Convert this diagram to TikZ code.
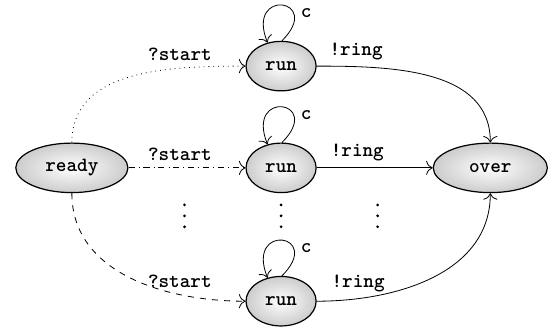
\documentclass[tikz,border=0pt]{standalone}
\usepackage{amsmath}
\usepackage{amssymb}
\usepackage{tikz}
\usetikzlibrary{shapes.geometric,positioning,arrows.meta}

\tikzset{
  loc/.style={ellipse,draw,semithick,shading=radial,inner color=white,
    outer color=gray!40,minimum height=24.5pt,inner sep=0pt},
  lbl/.style={above,font=\ttfamily\bfseries},
  dot/.style={circle,fill,inner sep=0pt,minimum size=1.5pt}
}

\begin{document}
\begin{tikzpicture}[->,>={To[length=3.2pt,width=7pt]},node distance=3.64cm,font=\ttfamily\bfseries]
  \useasboundingbox (-1.25,-2.785) rectangle (8.44,2.92);
  \node[loc,minimum width=55.5pt] (ready) {ready};
  \node[loc,minimum width=34.7pt] (run2) [right of=ready] {run};
  \node[loc,minimum width=34.7pt] (run1) [above of=run2,node distance=1.77cm] {run};
  \node[loc,minimum width=34.7pt] (run3) [below of=run2,node distance=2.32cm] {run};
  \node[loc,minimum width=56.5pt] (over) [right of=run2] {over};

  % the elided rows
  \foreach \c/\x in {1/-1.68,2/0,3/1.68}
    \foreach \r/\y in {1/0.19,2/0,3/-0.19}
      \node[dot] (vd\c\r) at ([shift={(\x,-0.835+\y)}]run2) {};

  \path (ready) edge [dotted,out=90,in=180] node[lbl,pos=0.72] {?start} (run1)
                edge [dash dot] node[lbl,pos=0.44] {?start} (run2)
                edge [dashed,out=-90,in=180] node[lbl,pos=0.73] {?start} (run3);

  \path (run1) edge [out=0,in=90] node[lbl,pos=0.17] {!ring} (over)
        (run2) edge node[lbl,pos=0.35] {!ring} (over)
        (run3) edge [out=0,in=-90] node[lbl,pos=0.17] {!ring} (over);

  % self loops
  \draw (run1.88) .. controls +(45:1.04) and +(112:1.04) .. (run1.120) node[right,pos=0.28] {c};
  \draw (run2.88) .. controls +(45:1.04) and +(112:1.04) .. (run2.120) node[right,pos=0.28] {c};
  \draw (run3.88) .. controls +(45:1.04) and +(112:1.04) .. (run3.120) node[right,pos=0.28] {c};
\end{tikzpicture}
\end{document}
